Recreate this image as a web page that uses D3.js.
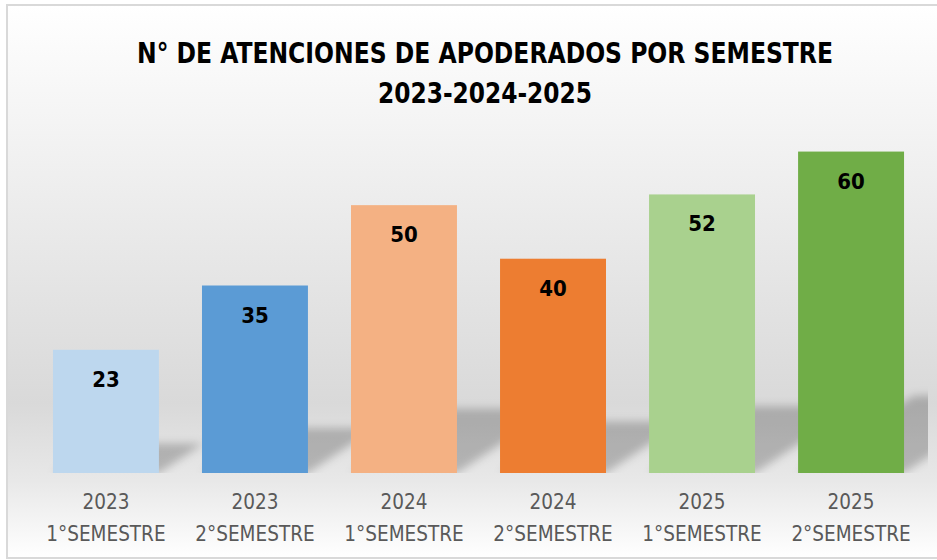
<!DOCTYPE html>
<html>
<head>
<meta charset="utf-8">
<script src="https://cdn.jsdelivr.net/npm/d3@7"></script>
<style>
  body { margin: 0; background: #fff; }
  svg { display: block; }
</style>
</head>
<body>
<svg width="937" height="560"></svg>
<script>
const years = ['2023', '2023', '2024', '2024', '2025', '2025']
const semesters = ['1°SEMESTRE', '2°SEMESTRE', '1°SEMESTRE', '2°SEMESTRE', '1°SEMESTRE', '2°SEMESTRE']
const values = [23, 35, 50, 40, 52, 60]
const colors = ['#BDD7EE', '#5B9BD5', '#F4B183', '#ED7D31', '#A9D18E', '#70AD47']
const titleLines = ['N° DE ATENCIONES DE APODERADOS POR SEMESTRE', '2023-2024-2025']

const svg = d3.select('svg')
const width = +svg.attr('width')
const height = +svg.attr('height')
const font = '"Liberation Sans Narrow", "DejaVu Sans Condensed", "Open Sans", sans-serif'

const baseY = 473
const topY = 98

const data = values.map((v, i) => ({ key: i, year: years[i], sem: semesters[i], value: v, color: colors[i] }))

const x = d3.scaleBand()
	.domain(data.map(d => d.key))
	.range([31.5, 925.5])
	.paddingInner(0.289)
	.paddingOuter(0.144)

const y = d3.scaleLinear()
	.domain([0, 70])
	.range([baseY, topY])

const defs = svg.append('defs')

const grad = defs.append('linearGradient')
	.attr('id', 'bg')
	.attr('x1', 0).attr('y1', 0).attr('x2', 0).attr('y2', 1)
grad.append('stop').attr('offset', '0%').attr('stop-color', '#ffffff')
grad.append('stop').attr('offset', '25%').attr('stop-color', '#f2f2f2')
grad.append('stop').attr('offset', '72%').attr('stop-color', '#d9d9d9')
grad.append('stop').attr('offset', '86%').attr('stop-color', '#e8e8e8')
grad.append('stop').attr('offset', '100%').attr('stop-color', '#ffffff')

defs.append('filter')
	.attr('id', 'blur')
	.attr('x', '-20%').attr('y', '-20%').attr('width', '140%').attr('height', '140%')
	.append('feGaussianBlur')
	.attr('stdDeviation', 4)

defs.append('clipPath')
	.attr('id', 'plotclip')
	.append('rect')
	.attr('x', 8).attr('y', 6).attr('width', 920).attr('height', baseY - 6)

// frame
svg.append('rect')
	.attr('x', 7).attr('y', 5)
	.attr('width', 945).attr('height', 553)
	.attr('fill', 'url(#bg)')
	.attr('stroke', '#d9d9d9')
	.attr('stroke-width', 2)

// title (squeezed to the width of the original Calibri lines)
const titleWidths = [696, 214]
svg.append('g')
	.selectAll('text')
	.data(titleLines)
	.enter()
	.append('text')
	.attr('x', 485)
	.attr('y', (d, i) => 63 + i * 40)
	.attr('text-anchor', 'middle')
	.attr('font-family', font)
	.attr('font-weight', 'bold')
	.attr('font-size', 27.5)
	.attr('fill', '#000')
	.attr('textLength', (d, i) => titleWidths[i])
	.attr('lengthAdjust', 'spacingAndGlyphs')
	.text(d => d)

// perspective shadows behind bars
const k = 0.24
svg.append('g')
	.attr('clip-path', 'url(#plotclip)')
	.append('g')
	.attr('filter', 'url(#blur)')
	.selectAll('path')
	.data(data)
	.enter()
	.append('path')
	.attr('d', d => {
		const h = (baseY - y(d.value)) * k
		const x0 = x(d.key), x1 = x(d.key) + x.bandwidth()
		return `M${x0},${baseY}L${x1},${baseY}L${x1 + 1.5 * h},${baseY - h}L${x0 + 1.5 * h},${baseY - h}Z`
	})
	.attr('fill', '#000')
	.attr('opacity', 0.22)

// bars
const bar = svg.append('g')
	.selectAll('.bar')
	.data(data)
	.enter()
	.append('g')
	.attr('class', 'bar')

bar.append('rect')
	.attr('x', d => x(d.key))
	.attr('y', d => y(d.value))
	.attr('width', x.bandwidth())
	.attr('height', d => baseY - y(d.value))
	.attr('fill', d => d.color)

bar.append('text')
	.attr('x', d => x(d.key) + x.bandwidth() / 2)
	.attr('y', d => y(d.value) + 37)
	.attr('text-anchor', 'middle')
	.attr('font-family', font)
	.attr('font-weight', 'bold')
	.attr('font-size', 22)
	.attr('fill', '#000')
	.text(d => d.value)

// category labels
const lab = svg.append('g')
	.selectAll('text')
	.data(data)
	.enter()
	.append('text')
	.attr('text-anchor', 'middle')
	.attr('font-family', font)
	.attr('font-size', 20.5)
	.attr('fill', '#595959')

lab.append('tspan')
	.attr('x', d => x(d.key) + x.bandwidth() / 2)
	.attr('y', 509)
	.text(d => d.year)

lab.append('tspan')
	.attr('x', d => x(d.key) + x.bandwidth() / 2)
	.attr('y', 541)
	.text(d => d.sem)
</script>
</body>
</html>
